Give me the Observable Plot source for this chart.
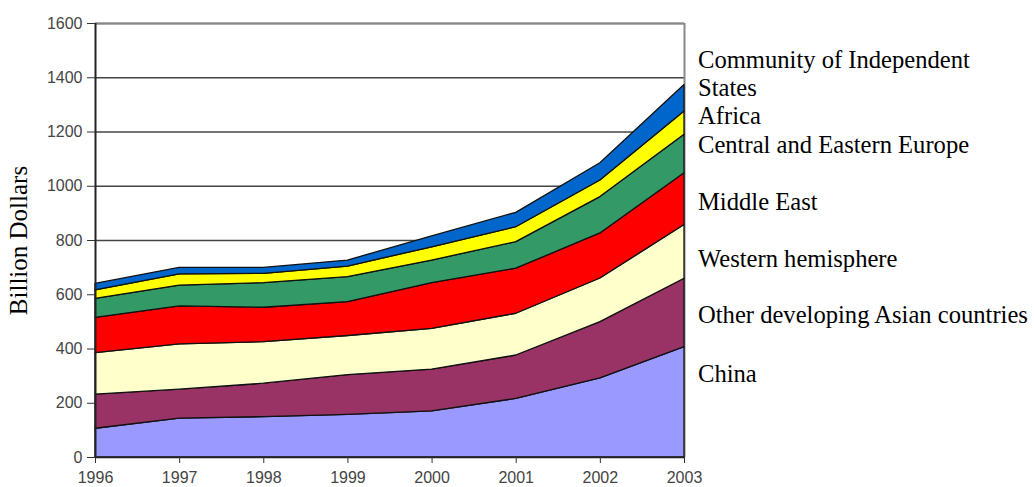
<!DOCTYPE html>
<html>
<head>
<meta charset="utf-8">
<script src="https://cdn.jsdelivr.net/npm/d3@7"></script>
<script src="https://cdn.jsdelivr.net/npm/@observablehq/plot@0.6"></script>
<style>
  html, body { margin: 0; padding: 0; background: #fff; }
  #wrap { display: flex; width: 1034px; height: 487px; }
  #legend { position: relative; width: 336px; margin-left: -8px; height: 487px; font-family: "Liberation Serif", "Times New Roman", serif; font-size: 24.6px; line-height: 28px; color: #000; }
  #legend div { position: absolute; left: 0px; white-space: nowrap; }
</style>
</head>
<body>
<div id="wrap"><div id="chart"></div><div id="legend"></div></div>
<script>
// ---- data (billion dollars) ----
const years = [1996, 1997, 1998, 1999, 2000, 2001, 2002, 2003];
const regions = [
  "China",
  "Other developing Asian countries",
  "Western hemisphere",
  "Middle East",
  "Central and Eastern Europe",
  "Africa",
  "Community of Independent States"
];
const china        = [106, 143, 149, 157, 170, 216, 292, 407];
const otherAsia    = [126, 107, 123, 147, 154, 160, 207, 252];
const western      = [153, 167, 153, 144, 150, 154, 161, 198];
const middleEast   = [130, 140, 127, 125, 169, 166, 166, 191];
const centralEast  = [ 70,  77,  91,  92,  83,  98, 134, 142];
const africa       = [ 31,  41,  34,  39,  49,  55,  61,  86];
const cis          = [ 24,  24,  22,  22,  40,  53,  64,  97];
const yTicks = [0, 200, 400, 600, 800, 1000, 1200, 1400, 1600];
const colors = ["#9999ff", "#993366", "#ffffcc", "#ff0000", "#339966", "#ffff00", "#0066cc"];
const legendLabels = [
  ["Community of Independent", "States"],
  ["Africa"],
  ["Central and Eastern Europe"],
  ["Middle East"],
  ["Western hemisphere"],
  ["Other developing Asian countries"],
  ["China"]
];
const legendTops = [46, 102, 131, 188, 245, 301, 360];

const series = [china, otherAsia, western, middleEast, centralEast, africa, cis];
const rows = [];
regions.forEach((r, i) => years.forEach((yr, j) => rows.push({year: yr, region: r, value: series[i][j]})));

const chart = Plot.plot({
  width: 706,
  height: 487,
  marginLeft: 95,
  marginRight: 22,
  marginTop: 23,
  marginBottom: 30,
  style: {fontFamily: "Liberation Sans, Arial, sans-serif", background: "#fff"},
  x: {domain: [1996, 2003], label: null},
  y: {domain: [0, 1600], label: null},
  color: {domain: regions, range: colors},
  marks: [
    Plot.ruleY(yTicks.filter(d => d > 0), {stroke: "#444", strokeWidth: 1.6}),
    Plot.ruleY([1600], {stroke: "#888", strokeWidth: 2}),
    Plot.ruleX([2003], {y1: 0, y2: 1600, stroke: "#888", strokeWidth: 2}),
    Plot.areaY(rows, {x: "year", y: "value", fill: "region", stroke: "#111", strokeWidth: 1.3, order: regions}),
    Plot.ruleY([0], {stroke: "#222", strokeWidth: 1.5}),
    Plot.ruleX([1996], {y1: 0, y2: 1600, stroke: "#222", strokeWidth: 2}),
    Plot.axisY({ticks: yTicks, tickSize: 8, tickPadding: 5, fontSize: 16, fill: "#444", stroke: "#333", tickFormat: d => String(d), label: null}),
    Plot.axisY({ticks: [], tickSize: 0, label: "Billion Dollars", labelAnchor: "center", labelArrow: "none", labelOffset: 86, fontSize: 25, fontFamily: "Liberation Serif, Times New Roman, serif", fill: "#000"}),
    Plot.axisX({ticks: years, tickSize: 6, tickPadding: 8, fontSize: 16, fill: "#444", stroke: "#333", tickFormat: d => String(d), label: null})
  ]
});
document.getElementById("chart").appendChild(chart);

const legend = document.getElementById("legend");
legendLabels.forEach((lines, i) => {
  const el = document.createElement("div");
  el.style.top = legendTops[i] + "px";
  el.innerHTML = lines.join("<br>");
  legend.appendChild(el);
});
</script>
</body>
</html>
